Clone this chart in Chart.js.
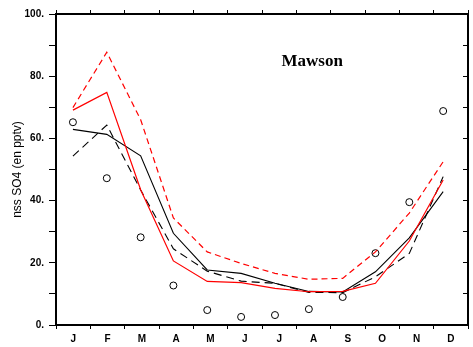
<!DOCTYPE html>
<html>
<head>
<meta charset="utf-8">
<script src="https://cdn.jsdelivr.net/npm/chart.js@4"></script>
<style>
  html, body { margin: 0; padding: 0; background: #fff; }
  #wrap { width: 473px; height: 347px; }
</style>
</head>
<body>
<div id="wrap"><canvas id="chart"></canvas></div>
<script>
// Mawson - nss SO4 seasonal cycle
const stationName = "Mawson";
const yTitle = "nss SO4 (en pptv)";
const months = ["J", "F", "M", "A", "M", "J", "J", "A", "S", "O", "N", "D"];
const dayOfYear = [15, 45, 75, 104, 134, 164, 194, 224, 254, 283, 313, 343];

const redDashed = [69.9, 87.7, 66.0, 34.4, 23.5, 19.8, 16.6, 14.7, 15.0, 23.5, 36.0, 52.5];
const redSolid = [69.1, 74.8, 43.5, 20.6, 14.0, 13.6, 11.8, 10.7, 10.8, 13.4, 27.0, 46.6];
const blackSolid = [62.9, 61.3, 54.4, 29.5, 17.7, 16.6, 13.4, 10.8, 10.6, 17.1, 28.0, 42.9];
const blackDashed = [54.3, 64.3, 43.4, 24.5, 17.3, 14.1, 13.4, 10.5, 10.4, 15.5, 23.0, 47.7];
const observed = [65.2, 47.2, 28.2, 12.7, 4.8, 2.6, 3.2, 5.1, 9.0, 23.1, 39.5, 68.8];

// ticks: month edges (tick marks) and month middles (letters)
const monthLen = 365 / 12;
const edgeTicks = [];
const bottomTicks = [];
for (let k = 0; k <= 12; k++) {
  edgeTicks.push(k * monthLen);
  bottomTicks.push(k * monthLen);
  if (k < 12) bottomTicks.push((k + 0.5) * monthLen);
}

const pts = vals => vals.map((v, i) => ({ x: dayOfYear[i], y: v }));

const tickFont = { family: "Liberation Sans", weight: "bold", size: 10 };

const stationLabel = {
  id: "stationLabel",
  afterDraw(chart) {
    const ctx = chart.ctx;
    const x = chart.scales.x.getPixelForValue(227);
    const y = chart.scales.y.getPixelForValue(84.7);
    ctx.save();
    ctx.font = 'bold 17px "Liberation Serif"';
    ctx.fillStyle = "#000";
    ctx.textAlign = "center";
    ctx.textBaseline = "middle";
    ctx.fillText(stationName, x, y);
    ctx.restore();
  }
};

new Chart(document.querySelector("#chart"), {
  type: "scatter",
  data: {
    datasets: [
      {
        data: pts(redDashed), showLine: true, borderColor: "#ff0000",
        borderWidth: 1.2, borderDash: [6, 4], pointRadius: 0, fill: false
      },
      {
        data: pts(redSolid), showLine: true, borderColor: "#ff0000",
        borderWidth: 1.2, pointRadius: 0, fill: false
      },
      {
        data: pts(blackSolid), showLine: true, borderColor: "#000",
        borderWidth: 1.1, pointRadius: 0, fill: false
      },
      {
        data: pts(blackDashed), showLine: true, borderColor: "#000",
        borderWidth: 1.1, borderDash: [8, 5], pointRadius: 0, fill: false
      },
      {
        data: pts(observed), showLine: false, pointStyle: "circle",
        pointRadius: 3.5, borderWidth: 1, borderColor: "#000",
        backgroundColor: "#fff"
      }
    ]
  },
  options: {
    responsive: true,
    maintainAspectRatio: false,
    animation: false,
    layout: { padding: 0 },
    plugins: {
      legend: { display: false },
      tooltip: { enabled: false }
    },
    scales: {
      x: {
        type: "linear", position: "bottom", min: 0, max: 365,
        afterBuildTicks: axis => { axis.ticks = bottomTicks.map(v => ({ value: v })); },
        afterFit: s => { s.height = 22; },
        ticks: {
          autoSkip: false, maxRotation: 0, padding: 4, color: "#000", font: tickFont,
          callback: (v, i) => (i % 2 ? months[(i - 1) / 2] : "")
        },
        grid: {
          drawOnChartArea: false, tickLength: 4, tickWidth: 1,
          tickColor: ctx => (ctx.index % 2 ? "rgba(0,0,0,0)" : "#000")
        },
        border: { color: "#000", width: 2 }
      },
      xTop: {
        type: "linear", position: "top", min: 0, max: 365,
        afterBuildTicks: axis => { axis.ticks = edgeTicks.map(v => ({ value: v })); },
        afterFit: s => { s.height = 14; },
        ticks: { display: false },
        grid: { drawOnChartArea: false, tickLength: 4, tickColor: "#000" },
        border: { color: "#000", width: 2 }
      },
      y: {
        min: 0, max: 100,
        afterFit: s => { s.width = 56; },
        ticks: {
          stepSize: 10, padding: 5, color: "#000", font: tickFont,
          callback: v => (v % 20 === 0 ? v + "." : "")
        },
        grid: { drawOnChartArea: false, tickLength: 7, tickColor: "#000" },
        border: { color: "#000", width: 2 },
        title: {
          display: true, text: yTitle, color: "#000",
          font: { family: "Liberation Sans", size: 12 },
          padding: { top: 10, bottom: 0 }
        }
      },
      yRight: {
        position: "right", min: 0, max: 100,
        afterFit: s => { s.width = 1; },
        ticks: { display: false, stepSize: 10 },
        grid: { drawOnChartArea: false, tickLength: -5, tickColor: "#000" },
        border: { color: "#000", width: 2 }
      }
    }
  },
  plugins: [stationLabel]
});
</script>
</body>
</html>
